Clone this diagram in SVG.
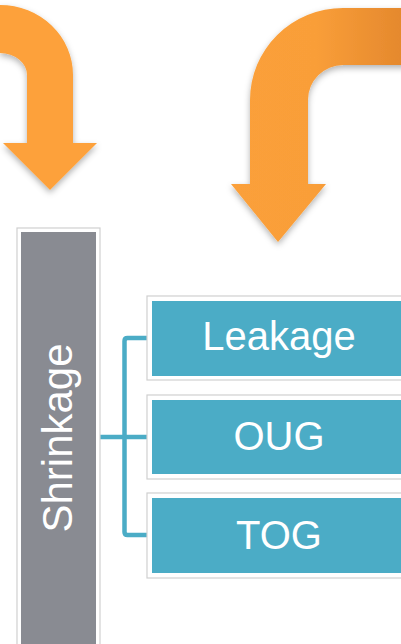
<svg xmlns="http://www.w3.org/2000/svg" width="401" height="644" viewBox="0 0 401 644">
<style>
.frame{fill:#ffffff;stroke:#d0d0d0;stroke-width:1.2}
.box{fill:#4BACC6}
.lbl{font-family:"Liberation Sans",Arial,sans-serif;fill:#ffffff;text-anchor:middle}
.conn{fill:none;stroke:#4BACC6;stroke-width:4.5;stroke-linejoin:round}
</style>
<defs>
<linearGradient id="og" x1="230" y1="0" x2="401" y2="0" gradientUnits="userSpaceOnUse">
<stop offset="0" stop-color="#FBA03A"/>
<stop offset="0.5" stop-color="#F99E39"/>
<stop offset="1" stop-color="#E5892D"/>
</linearGradient>
<filter id="sh" x="-20%" y="-20%" width="140%" height="140%">
<feDropShadow dx="0" dy="3" stdDeviation="3" flood-color="#000" flood-opacity="0.3"/>
</filter>
</defs>
<g id="arrow-left" filter="url(#sh)">
<path d="M0,5 A73,70 0 0 1 73,75 L73,143 L97,143 L50,190 L3,143 L27,143 L27,75 A27,22 0 0 0 0,53 Z" fill="#FDA13A"/>
</g>
<g id="arrow-right" filter="url(#sh)">
<path d="M410,8 L343,8 A93,92 0 0 0 250,100 L250,184 L231,184 L278,242 L326,184 L308,184 L308,100 A35,35 0 0 1 343,65 L410,65 Z" fill="url(#og)"/>
</g>
<g id="connectors">
<line class="conn" x1="100" y1="437" x2="124.5" y2="437"/>
<path class="conn" d="M148,338 L127.5,338 Q124.5,338 124.5,341 L124.5,532 Q124.5,535 127.5,535 L148,535"/>
<line class="conn" x1="124.5" y1="437" x2="148" y2="437"/>
</g>
<g id="shrinkage">
<rect class="frame" x="17" y="228" width="83" height="430"/>
<rect x="21" y="232" width="75" height="420" fill="#898B92"/>
<text class="lbl" transform="translate(72,438) rotate(-90)" font-size="42">Shrinkage</text>
</g>
<g id="leakage">
<rect class="frame" x="147" y="296" width="270" height="84"/>
<rect class="box" x="152" y="301" width="260" height="75"/>
<text class="lbl" x="279" y="350" font-size="40">Leakage</text>
</g>
<g id="oug">
<rect class="frame" x="147" y="395" width="270" height="84"/>
<rect class="box" x="152" y="400" width="260" height="74"/>
<text class="lbl" x="279" y="450" font-size="40">OUG</text>
</g>
<g id="tog">
<rect class="frame" x="147" y="493" width="270" height="85"/>
<rect class="box" x="152" y="498" width="260" height="75"/>
<text class="lbl" x="279" y="549" font-size="40">TOG</text>
</g>
</svg>
